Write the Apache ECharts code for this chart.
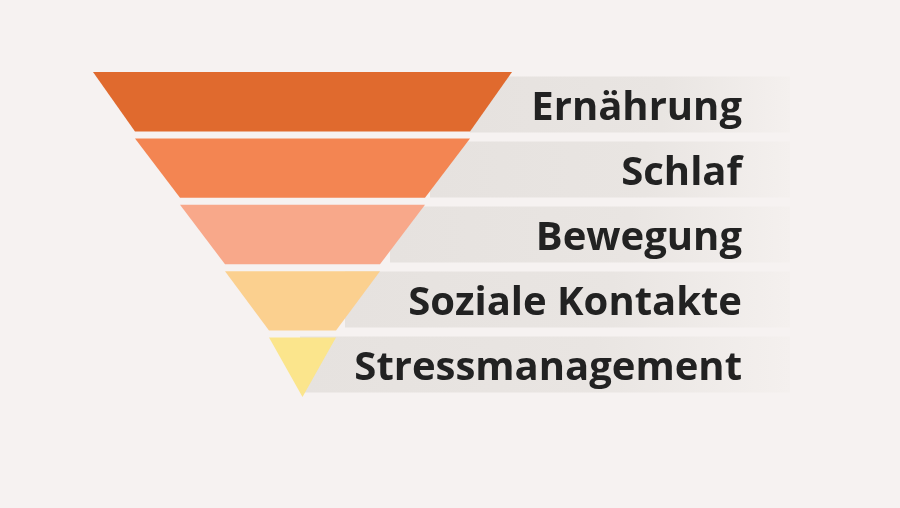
<!DOCTYPE html>
<html><head><meta charset="utf-8">
<script src="https://cdn.jsdelivr.net/npm/echarts@6/dist/echarts.min.js"></script>
<style>html,body{margin:0;padding:0;background:#f6f2f1}#c{width:900px;height:508px}</style>
</head><body><div id="c"></div>
<script>
const categories = ['Ernährung','Schlaf','Bewegung','Soziale Kontakte','Stressmanagement'];
const widths = [419, 335, 245, 155, 67];
const colors = ['#e06a2e','#f38552','#f8a88a','#fbd08f','#fbe58c'];
const bandStart = [470, 430, 390, 345, 300];
const bandEnd = 790;

const chart = echarts.init(document.getElementById('c'));
chart.setOption({
  backgroundColor: '#f6f2f1',
  animation: false,
  grid: {left: 0, right: 0, top: 72, bottom: 111},
  xAxis: {type: 'value', min: 0, max: 900, show: false},
  yAxis: {type: 'category', data: categories, inverse: true, show: false},
  series: [
    {
      type: 'bar', stack: 'b', barWidth: 56, z: 1, silent: true,
      data: bandStart, itemStyle: {color: 'rgba(0,0,0,0)'}
    },
    {
      type: 'bar', stack: 'b', barWidth: 56, z: 1,
      data: bandStart.map(s => bandEnd - s),
      itemStyle: {color: {type: 'linear', x: 0, y: 0, x2: 1, y2: 0, colorStops: [
        {offset: 0, color: '#e6e2df'}, {offset: 0.6, color: '#e9e5e2'}, {offset: 1, color: '#f4f0ee'}]}},
      label: {show: true, position: 'insideRight', distance: 48, offset: [0, 4], formatter: p => p.name,
        fontFamily: 'Open Sans', fontWeight: 700, fontSize: 40, color: '#222'}
    },
    {
      type: 'funnel', z: 5, left: 93, top: 72, width: 419, height: 325,
      min: 0, max: 419, minSize: '0%', maxSize: '100%', sort: 'none', gap: 7,
      funnelAlign: 'center', label: {show: false}, labelLine: {show: false},
      itemStyle: {borderWidth: 0},
      data: categories.map((n, i) => ({name: n, value: widths[i], itemStyle: {color: colors[i]}}))
    }
  ]
});
</script></body></html>
